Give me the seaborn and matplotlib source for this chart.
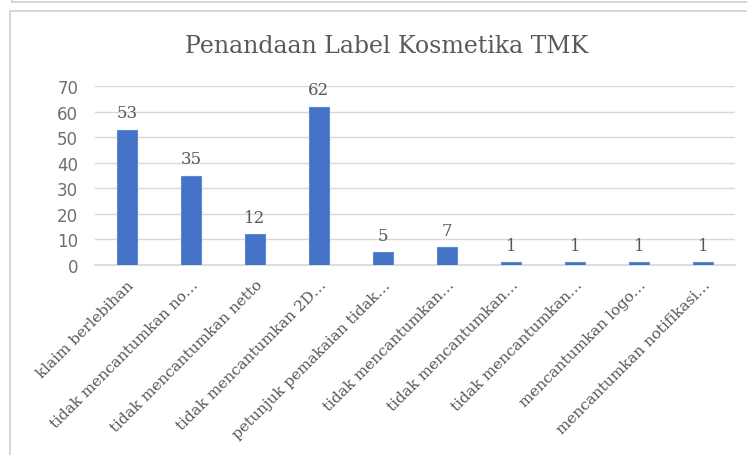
import matplotlib
matplotlib.use('Agg')
import numpy as np
import pandas as pd
import seaborn as sns
from matplotlib import pyplot as plt
from matplotlib.patches import Rectangle
from matplotlib.lines import Line2D

title = 'Penandaan Label Kosmetika TMK'
labels = ['klaim berlebihan',
          'tidak mencantumkan no…',
          'tidak mencantumkan netto',
          'tidak mencantumkan 2D…',
          'petunjuk pemakaian tidak…',
          'tidak mencantumkan…',
          'tidak mencantumkan…',
          'tidak mencantumkan…',
          'mencantumkan logo…',
          'mencantumkan notifikasi…']
counts = [53, 35, 12, 62, 5, 7, 1, 1, 1, 1]
yticks = [0, 10, 20, 30, 40, 50, 60, 70]

text_grey = '#595959'
tick_grey = '#6f6f6f'
bar_blue = '#4472C4'

sns.set_theme(style='white')
plt.rcParams['font.family'] = ['DejaVu Serif']

df = pd.DataFrame({'pos': range(len(labels)), 'count': counts})

fig = plt.figure(figsize=(7.47, 4.56), dpi=100)
ax = fig.add_axes([0.127, 0.4167, 0.857, 0.392])

sns.barplot(data=df, x='pos', y='count', color=bar_blue, width=0.31,
            saturation=1, edgecolor='#5B8BD6', linewidth=0.8, ax=ax, zorder=3)

ax.set_xlim(-0.5, len(labels) - 0.5)
ax.set_ylim(0, 70)
ax.set_yticks(yticks)
ax.set_yticklabels([str(t) for t in yticks], family='DejaVu Sans',
                   fontsize=12, color=tick_grey)
ax.yaxis.grid(True, color='#D9D9D9', linewidth=1, zorder=0)
ax.set_axisbelow(True)
for s in ['top', 'right', 'left']:
    ax.spines[s].set_visible(False)
ax.spines['bottom'].set_color('#D9D9D9')
ax.tick_params(axis='y', length=0, pad=12)
ax.tick_params(axis='x', length=0, pad=9)

ax.set_xticks(range(len(labels)))
ax.set_xticklabels(labels, rotation=45, ha='right', rotation_mode='anchor',
                   fontsize=11, color=text_grey)
ax.set_xlabel('')
ax.set_ylabel('')

for container in ax.containers:
    ax.bar_label(container, padding=6, fontsize=12, color=text_grey)

fig.text(0.518, 0.897, title, ha='center', va='center',
         fontsize=17, color=text_grey)

# screenshot frame around the chart
fig.patches.append(Rectangle((10 / 747, -0.01), 1.0, 1 - 12 / 456 + 0.01,
                             transform=fig.transFigure, fill=False,
                             edgecolor='#D0D0D0', linewidth=1.2))
fig.lines.append(Line2D([12 / 747, 1.0], [1 - 3 / 456, 1 - 3 / 456],
                        transform=fig.transFigure, color='#D0D0D0', linewidth=1.2))
fig.lines.append(Line2D([12 / 747, 12 / 747], [1 - 3 / 456, 1.0],
                        transform=fig.transFigure, color='#D0D0D0', linewidth=1.2))

fig.savefig('out.png', dpi=100)
